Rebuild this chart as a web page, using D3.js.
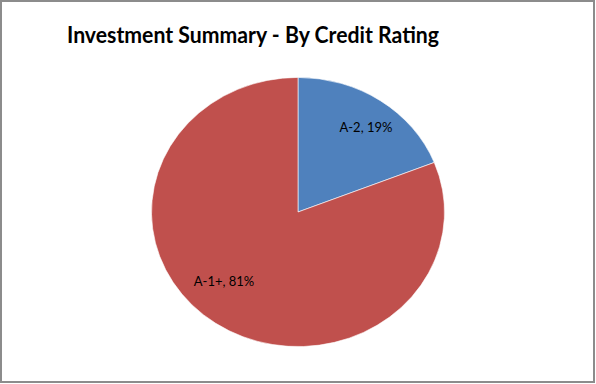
<!DOCTYPE html>
<html><head><meta charset="utf-8">
<script src="https://cdn.jsdelivr.net/npm/d3@7"></script>
<style>html,body{margin:0;padding:0;background:#fff;}svg{display:block;}</style>
</head><body>
<svg id="c" width="596" height="384"></svg>
<script>
const title = "Investment Summary - By Credit Rating";
const categories = ["A-2", "A-1+"];
const values = [19, 81];
const colors = ["#4F81BD", "#C0504D"];
// label placement (layout only): angular offset (radians) and radius fraction
const labelAngleOffset = [0.04, 0.18];
const labelRadius = [0.78, 0.72];

const svg = d3.select("#c");
svg.append("rect").attr("x", 1).attr("y", 1).attr("width", 593).attr("height", 381)
  .attr("fill", "#fff").attr("stroke", "#8c8c8c").attr("stroke-width", 2);

svg.append("text").attr("x", 253).attr("y", 43).attr("text-anchor", "middle")
  .attr("font-family", "Lato, 'Open Sans', sans-serif").attr("font-weight", "bold")
  .attr("font-size", 23).attr("fill", "#000")
  .attr("textLength", 372).attr("lengthAdjust", "spacingAndGlyphs")
  .text(title);

const cx = 298, cy = 212, rx = 146.5, ry = 134.6;
const pie = d3.pie().sort(null).value(d => d.v);
const data = categories.map((c, i) => ({c, v: values[i], col: colors[i], i}));
const arcs = pie(data);
const arc = d3.arc().innerRadius(0).outerRadius(1);

const g = svg.append("g").attr("transform", `translate(${cx},${cy}) scale(${rx},${ry})`);
g.selectAll("path").data(arcs).join("path")
  .attr("d", arc).attr("fill", d => d.data.col)
  .attr("stroke", "#fff").attr("stroke-width", 0.6).attr("vector-effect", "non-scaling-stroke");

const total = d3.sum(values);
svg.selectAll("text.lbl").data(arcs).join("text").attr("class", "lbl")
  .attr("transform", d => {
    const a = (d.startAngle + d.endAngle) / 2 + labelAngleOffset[d.data.i];
    const r = labelRadius[d.data.i];
    return `translate(${cx + Math.sin(a) * r * rx},${cy - Math.cos(a) * r * ry})`;
  })
  .attr("text-anchor", "middle").attr("dy", "0.35em")
  .attr("font-family", "Lato, 'Open Sans', sans-serif").attr("font-size", 13).attr("fill", "#000")
  .text(d => `${d.data.c}, ${Math.round(d.data.v / total * 100)}%`);
</script>
</body></html>
